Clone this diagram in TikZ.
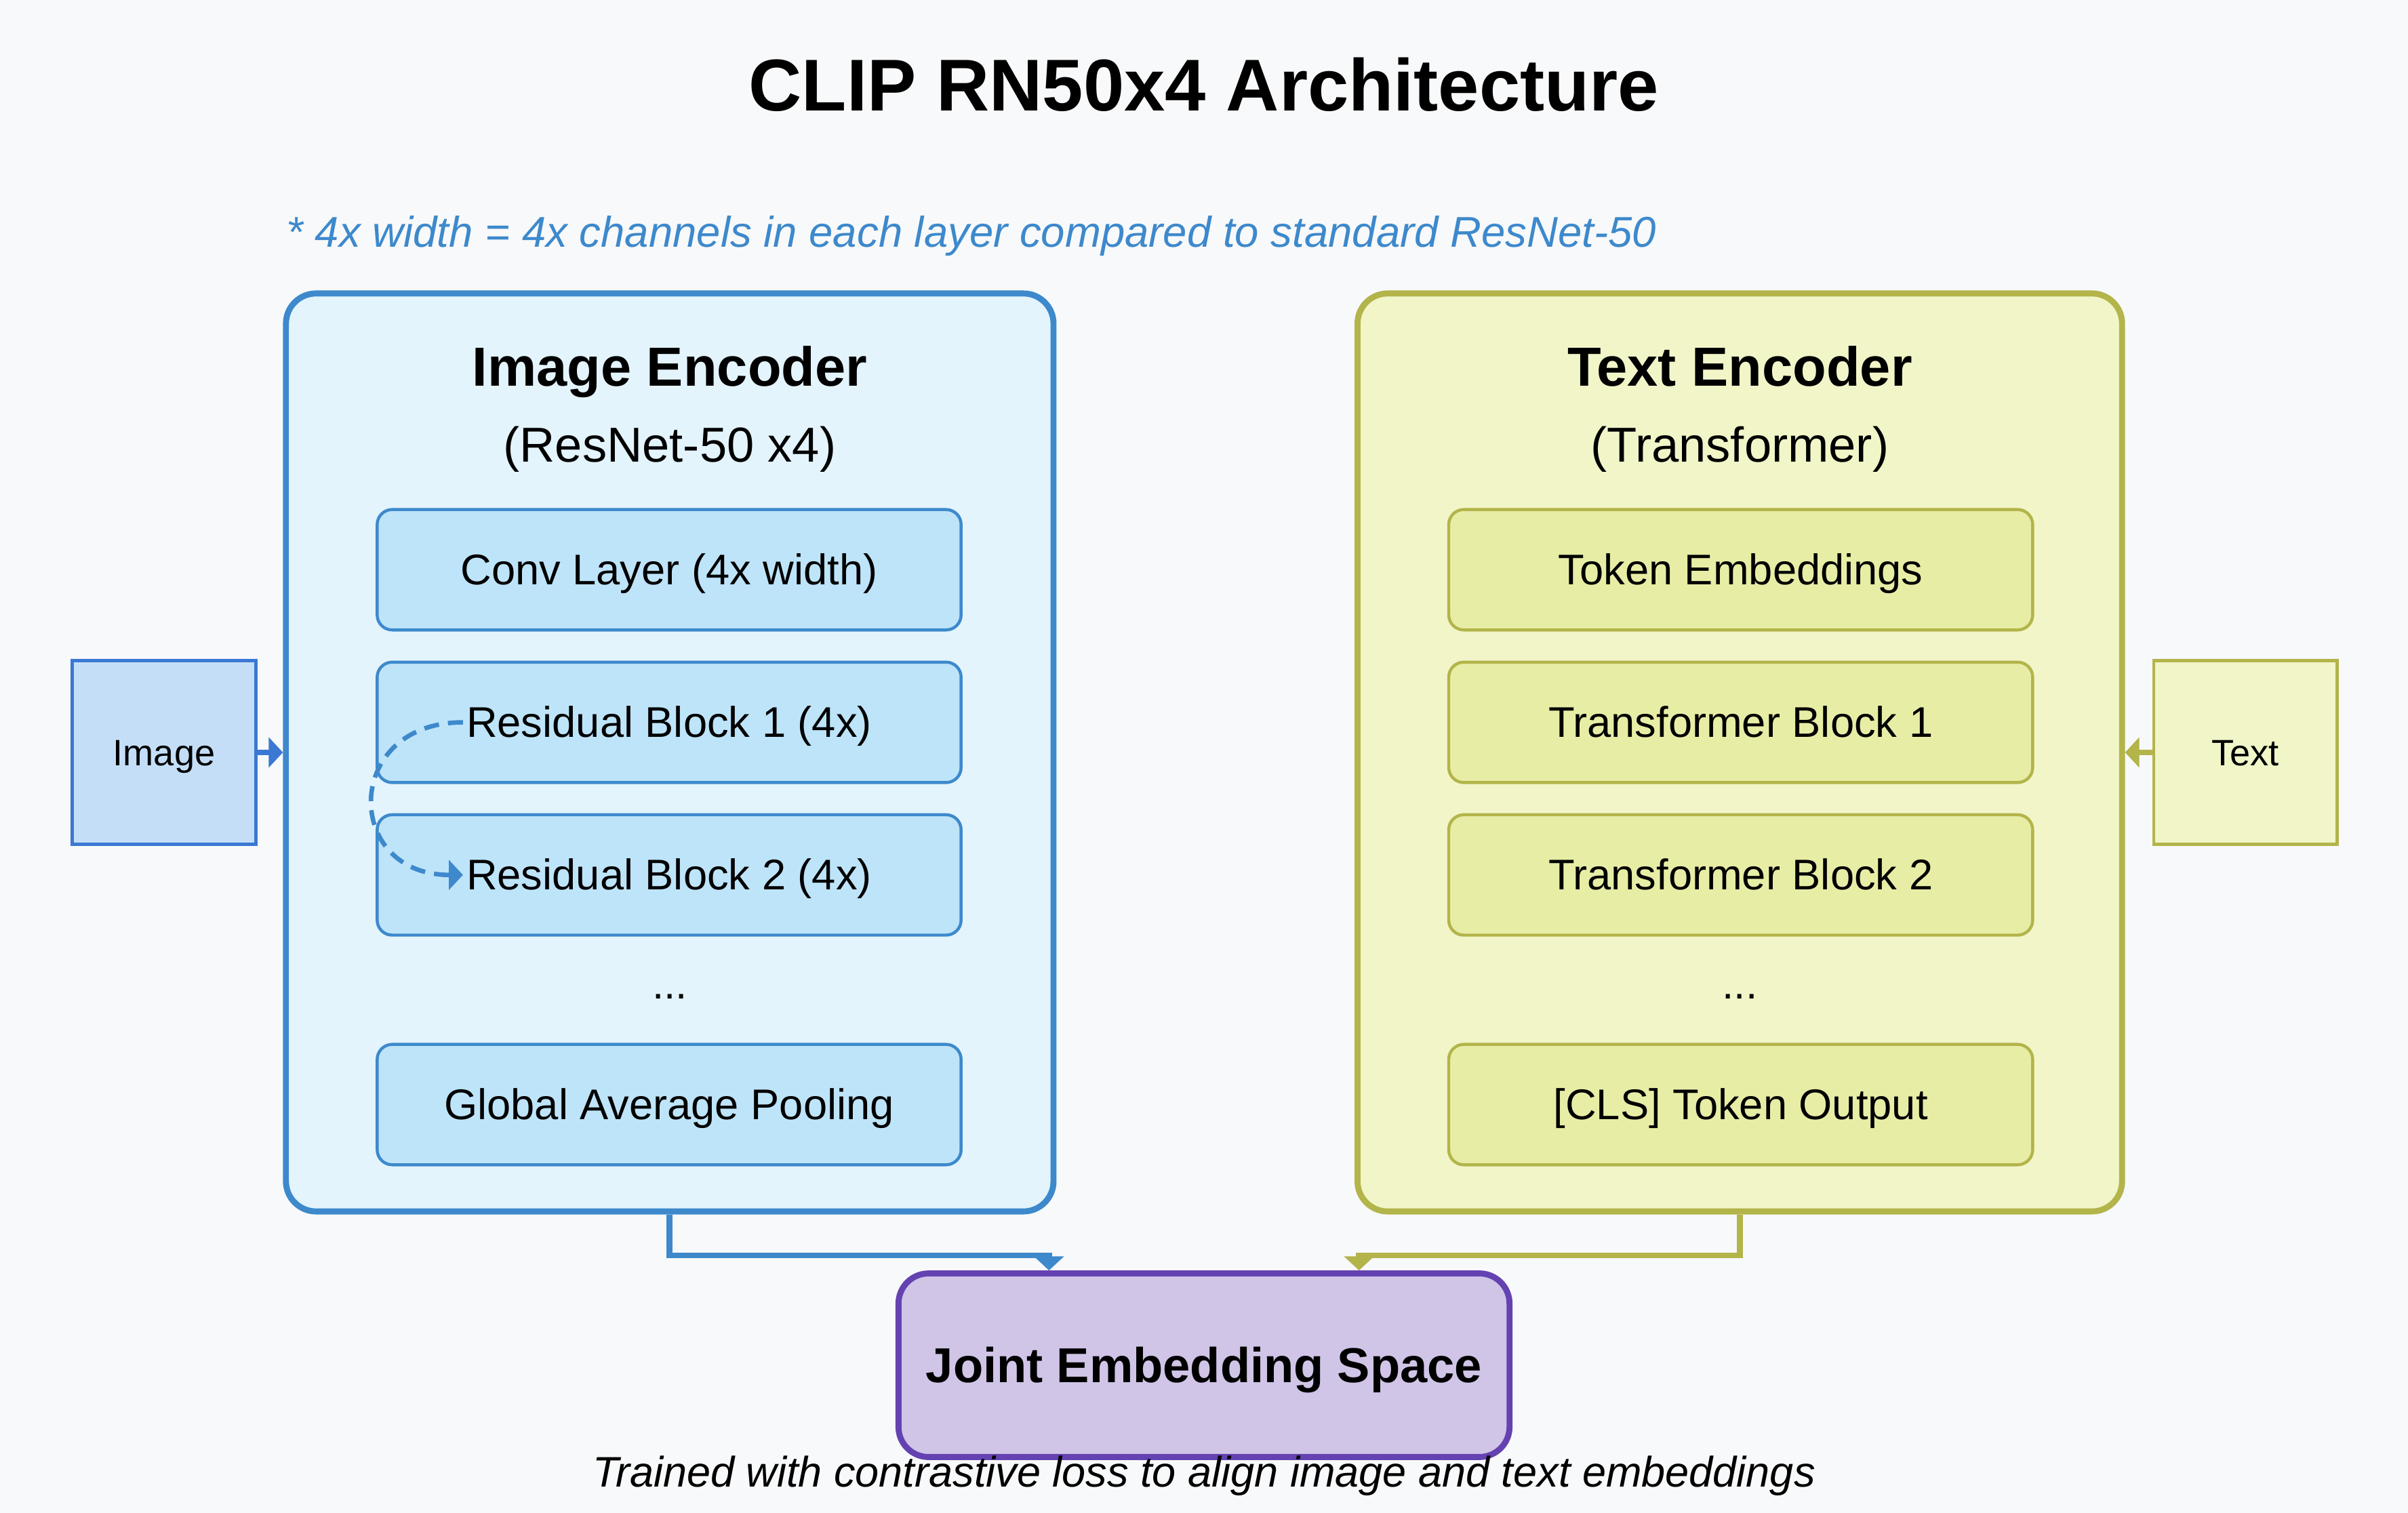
\documentclass[tikz,border=0pt]{standalone}
\usepackage{fontspec}
\setmainfont{Liberation Sans}
\usetikzlibrary{arrows.meta}

\definecolor{bgcol}{HTML}{F8F9FA}
\definecolor{blueline}{HTML}{3D89CC}
\definecolor{bluefill}{HTML}{E3F4FC}
\definecolor{bluelayerfill}{HTML}{BEE4F9}
\definecolor{imgline}{HTML}{3A78D3}
\definecolor{imgfill}{HTML}{C4DEF8}
\definecolor{greenline}{HTML}{B3B44A}
\definecolor{greenfill}{HTML}{F1F5C8}
\definecolor{greenlayerfill}{HTML}{E8EDA6}
\definecolor{jointline}{HTML}{6442B1}
\definecolor{jointfill}{HTML}{D0C5E7}

\tikzset{
  maintitle/.style={anchor=base,inner sep=0pt,font=\bfseries\fontsize{24.4}{28}\selectfont},
  note/.style={anchor=base west,inner sep=0pt,text=blueline,font=\itshape\fontsize{14.3}{17}\selectfont},
  caption/.style={anchor=base,inner sep=0pt,font=\itshape\fontsize{14.2}{17}\selectfont},
  encbox/.style={draw,line width=2pt,rounded corners=10pt,minimum width=255pt,minimum height=305pt,inner sep=0pt},
  enctitle/.style={anchor=base,inner sep=0pt,font=\bfseries\fontsize{18.3}{22}\selectfont},
  encsub/.style={anchor=base,inner sep=0pt,font=\fontsize{16.3}{19}\selectfont},
  layer/.style={draw,line width=1pt,rounded corners=5pt,minimum width=194pt,minimum height=40pt,inner sep=0pt,
    text height=10pt,text depth=0pt,font=\fontsize{14.25}{17}\selectfont},
  bluelayer/.style={layer,draw=blueline,fill=bluelayerfill},
  greenlayer/.style={layer,draw=greenline,fill=greenlayerfill},
  dots/.style={anchor=base,inner sep=0pt,font=\fontsize{14}{17}\selectfont},
  inputbox/.style={draw,line width=1pt,minimum size=61pt,inner sep=0pt,text height=8.6pt,text depth=0pt,
    font=\fontsize{12.2}{14}\selectfont},
  jointbox/.style={draw=jointline,fill=jointfill,line width=2pt,rounded corners=10pt,minimum width=203pt,
    minimum height=61pt,inner sep=0pt,text height=11.5pt,text depth=0pt,font=\bfseries\fontsize{16.3}{19}\selectfont},
  flow/.style={line width=2pt,-{Triangle[length=4.7pt,width=9.8pt]}},
  skip/.style={line width=1.5pt,dash pattern=on 5pt off 3pt,blueline,-{Triangle[length=4.7pt,width=9.8pt]}}
}

\begin{document}
\begin{tikzpicture}[x=1pt,y=-1pt]
\fill[bgcol] (0,0) rectangle (800,502.7);

\node[maintitle] (title) at (400,36.8) {CLIP RN50x4 Architecture};
\node[note] (note) at (95,82.2) {* 4x width = 4x channels in each layer compared to standard ResNet-50};

\node[encbox,draw=blueline,fill=bluefill] (ienc) at (222.5,250) {};
\node[enctitle] (ienctitle) at (222.5,128.2) {Image Encoder};
\node[encsub] (iencsub) at (222.5,153.5) {(ResNet-50 x4)};
\node[bluelayer] (conv) at (222.3,189.3) {Conv Layer (4x width)};
\node[bluelayer] (res1) at (222.3,240) {Residual Block 1 (4x)};
\node[bluelayer] (res2) at (222.3,290.7) {Residual Block 2 (4x)};
\node[dots] (idots) at (222.5,331.8) {...};
\node[bluelayer] (gap) at (222.3,367) {Global Average Pooling};

\node[encbox,draw=greenline,fill=greenfill,minimum width=254pt] (tenc) at (578,250) {};
\node[enctitle] (tenctitle) at (578,128.2) {Text Encoder};
\node[encsub] (tencsub) at (578,153.5) {(Transformer)};
\node[greenlayer] (tok) at (578.3,189.3) {Token Embeddings};
\node[greenlayer] (tb1) at (578.3,240) {Transformer Block 1};
\node[greenlayer] (tb2) at (578.3,290.7) {Transformer Block 2};
\node[dots] (tdots) at (578,331.8) {...};
\node[greenlayer] (cls) at (578.3,367) {[CLS] Token Output};

\node[inputbox,draw=imgline,fill=imgfill] (img) at (54.5,250) {Image};
\node[inputbox,draw=greenline,fill=greenfill] (txt) at (746,250) {Text};

\node[jointbox] (joint) at (400,453.6) {Joint Embedding Space};
\node[caption] (cap) at (400,494) {Trained with contrastive loss to align image and text embeddings};

\draw[skip] ([xshift=29pt]res1.west) .. controls +(-40pt,0pt) and +(-40pt,0pt) .. ([xshift=29pt]res2.west);

\draw[flow,imgline] (img.east) -- (ienc.west);
\draw[flow,greenline] (txt.west) -- (tenc.east);
\draw[flow,blueline] (ienc.south) |- ([xshift=51pt,yshift=5pt]joint.north west) -- ([xshift=51pt]joint.north west);
\draw[flow,greenline] (tenc.south) |- ([xshift=-51pt,yshift=5pt]joint.north east) -- ([xshift=-51pt]joint.north east);
\end{tikzpicture}
\end{document}
